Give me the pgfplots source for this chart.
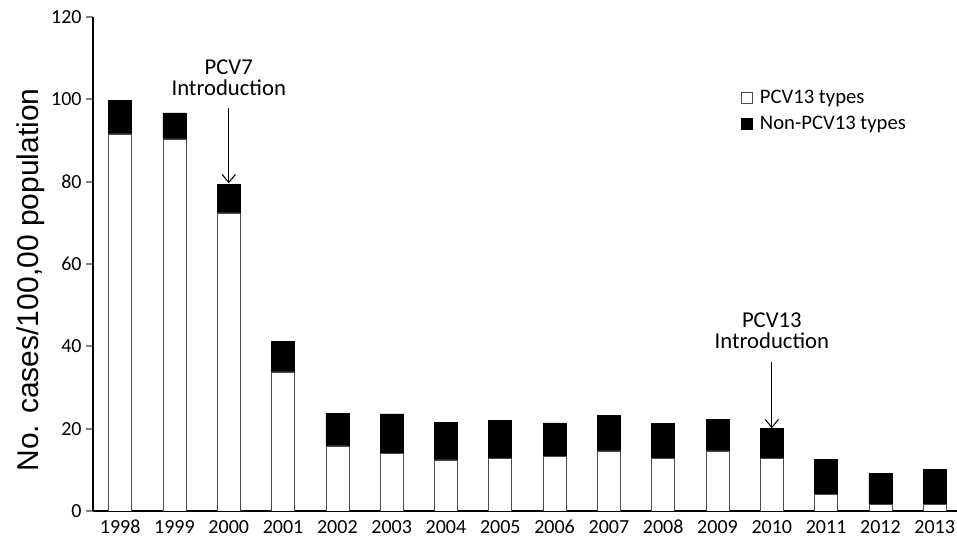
\documentclass[border=0pt]{standalone}
\usepackage{pgfplots}
\pgfplotsset{compat=1.18}
\usepackage{fontspec}
\setmainfont{Carlito}
\newfontfamily\arialfont{Liberation Sans}
\usetikzlibrary{arrows.meta}
\begin{document}
\begin{tikzpicture}
\useasboundingbox (-69.75pt,-27.75pt) rectangle (648pt,383.25pt);
\begin{axis}[
  at={(0,0)}, anchor=south west,
  scale only axis, width=648pt, height=370.5pt,
  ybar stacked, bar width=17.25pt,
  xmin=-0.5, xmax=15.41, ymin=0, ymax=120,
  axis x line*=bottom, axis y line*=left,
  axis line style={line width=1.3pt},
  ytick={0,20,...,120},
  xtick={0,...,15},
  xticklabels={1998,1999,2000,2001,2002,2003,2004,2005,2006,2007,2008,2009,2010,2011,2012,2013},
  x tick style={draw=none},
  extra x ticks={-0.5,0.5,...,14.5},
  extra x tick labels={},
  extra x tick style={tick style={draw=black, line width=1.3pt}, major tick length=5pt, tick align=outside},
  y tick style={line width=1.3pt}, major tick length=5pt, tick align=outside,
  tick label style={font=\fontsize{15}{17}\selectfont},
  /pgf/number format/assume math mode=true,
  xticklabel style={text height=7.5pt, text depth=0pt, yshift=-1pt},
  ylabel={\arialfont\fontsize{22.5}{26}\selectfont No. cases/100,00 population},
  ylabel style={yshift=-2pt, xshift=-12pt},
  legend style={draw=none, at={(0.75,0.858)}, anchor=north west, font=\fontsize{15.5}{18}\selectfont, row sep=4pt, inner sep=0pt},
  legend cell align=left,
  legend image code/.code={\draw[#1, line width=0.5pt] (0pt,-4.2pt) rectangle (8.4pt,4.2pt); \path (11.5pt,0pt);},
]
\addplot[fill=white, draw=black!70, line width=0.5pt] coordinates {
 (0,91.6) (1,90.4) (2,72.4) (3,33.8) (4,15.8) (5,14.0) (6,12.4) (7,12.7)
 (8,13.3) (9,14.6) (10,12.7) (11,14.6) (12,12.7) (13,4.0) (14,1.6) (15,1.6)};
\addplot[fill=black, draw=black, line width=0.5pt] coordinates {
 (0,8.2) (1,6.3) (2,7.0) (3,7.4) (4,8.0) (5,9.6) (6,9.1) (7,9.4)
 (8,8.1) (9,8.6) (10,8.5) (11,7.7) (12,7.3) (13,8.6) (14,7.6) (15,8.4)};
\legend{PCV13 types, Non-PCV13 types}
\node[align=center, font=\fontsize{17}{16}\selectfont] at (axis cs:2.0,105.2) {PCV7\\Introduction};
\draw[-{Straight Barb[length=6pt,width=10pt]}, line width=0.8pt] (axis cs:2,97.9) -- (axis cs:2,79.6);
\node[align=center, font=\fontsize{17}{16}\selectfont] at (axis cs:12,43.8) {PCV13\\Introduction};
\draw[-{Straight Barb[length=6pt,width=10pt]}, line width=0.8pt] (axis cs:12,36.2) -- (axis cs:12,20.1);
\end{axis}
\end{tikzpicture}
\end{document}
